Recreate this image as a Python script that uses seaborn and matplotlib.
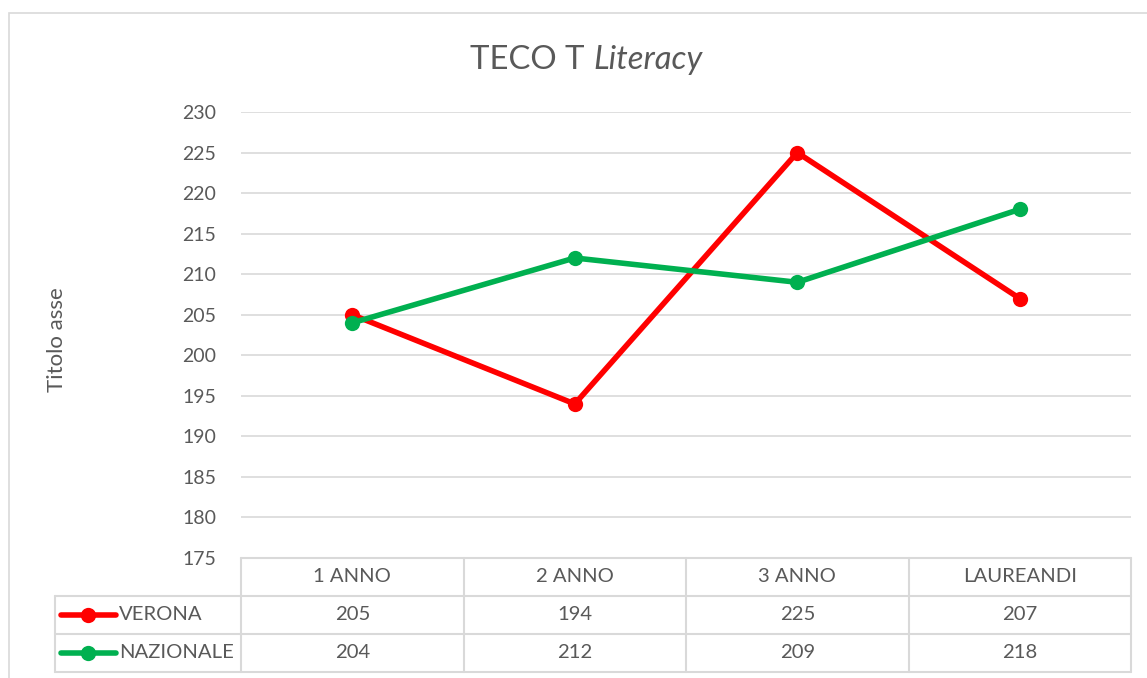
import matplotlib
matplotlib.use("Agg")
import matplotlib.pyplot as plt
import matplotlib.transforms as mtransforms
from matplotlib.lines import Line2D
from matplotlib.patches import Rectangle
import seaborn as sns
import pandas as pd

categories = ["1 ANNO", "2 ANNO", "3 ANNO", "LAUREANDI"]
verona = [205, 194, 225, 207]
nazionale = [204, 212, 209, 218]
series_names = ["VERONA", "NAZIONALE"]
series_colors = ["#FF0000", "#00B050"]
yticks = list(range(175, 231, 5))

sns.set_theme(style="white")
plt.rcParams["font.family"] = ["Lato", "DejaVu Sans"]

W, H = 1147, 678
fig = plt.figure(figsize=(W / 100, H / 100), dpi=100)
ax = fig.add_axes([241 / W, 1 - 558 / H, (1131 - 241) / W, (558 - 112) / H])

df = pd.DataFrame({
    "cat": list(range(len(categories))) * 2,
    "value": verona + nazionale,
    "serie": [series_names[0]] * 4 + [series_names[1]] * 4,
})
sns.lineplot(data=df, x="cat", y="value", hue="serie", palette=series_colors,
             marker="o", markersize=11, markeredgewidth=0, linewidth=4,
             legend=False, ax=ax, sort=False)

txt = "#595959"
grid = "#D9D9D9"
ax.set_xlim(-0.5, 3.5)
ax.set_ylim(175, 230)
ax.set_yticks(yticks)
ax.set_yticklabels([str(t) for t in yticks], color=txt, fontsize=14)
ax.set_xticks([])
ax.set_xlabel("")
ax.set_ylabel("Titolo asse", color=txt, fontsize=16)
ax.yaxis.set_label_coords((67 - 241) / (1131 - 241), 0.49)
ax.tick_params(axis="y", length=0, pad=18)
for y in yticks[1:]:
    ax.axhline(y, color=grid, linewidth=1.2, zorder=0)
for s in ax.spines.values():
    s.set_visible(False)

# chart border
fig.patches.append(Rectangle((9 / W, -0.1), 1.2, 1 - 13 / H + 0.1, transform=fig.transFigure,
                             fill=False, edgecolor=grid, linewidth=1.2))

# title
fig.text(593 / W, 1 - 60 / H, "TECO T ", ha="right", va="center", color=txt, fontsize=23.7)
fig.text(593 / W, 1 - 60 / H, "Literacy", ha="left", va="center", color=txt, fontsize=23.7,
         style="italic")

# data table
tr = mtransforms.blended_transform_factory(ax.transData, fig.transFigure)
def fy(py):
    return 1 - py / H
legend_left = -0.5 + (55 - 241) / 222.5
rows = [558, 596, 634, 672]
def hline(x0, x1, py):
    fig.lines.append(Line2D([x0, x1], [fy(py), fy(py)], transform=tr, color=grid, linewidth=1.5))
def vline(x, py0, py1):
    fig.lines.append(Line2D([x, x], [fy(py0), fy(py1)], transform=tr, color=grid, linewidth=1.5))
hline(-0.5, 3.5, 558)
for py in rows[1:]:
    hline(legend_left, 3.5, py)
vline(legend_left, 596, 672)
for i in range(5):
    vline(i - 0.5, 558, 672)

fs_tab = 14.6
for i, c in enumerate(categories):
    fig.text(i, fy(577), c, transform=tr, ha="center", va="center", color=txt, fontsize=fs_tab)
for r, (name, vals, col) in enumerate(zip(series_names, [verona, nazionale], series_colors)):
    cy = (rows[r + 1] + rows[r + 2]) / 2
    for i, v in enumerate(vals):
        fig.text(i, fy(cy), str(v), transform=tr, ha="center", va="center", color=txt, fontsize=fs_tab)
    fig.lines.append(Line2D([61 / W, 116 / W], [fy(cy), fy(cy)], transform=fig.transFigure,
                            color=col, linewidth=4, solid_capstyle="round"))
    fig.lines.append(Line2D([88 / W], [fy(cy)], transform=fig.transFigure, marker="o",
                            markersize=11, markeredgewidth=0, color=col, linestyle="none"))
    fig.text(119 / W, fy(cy), name, ha="left", va="center", color=txt, fontsize=fs_tab)

fig.savefig("out.png", dpi=100)
